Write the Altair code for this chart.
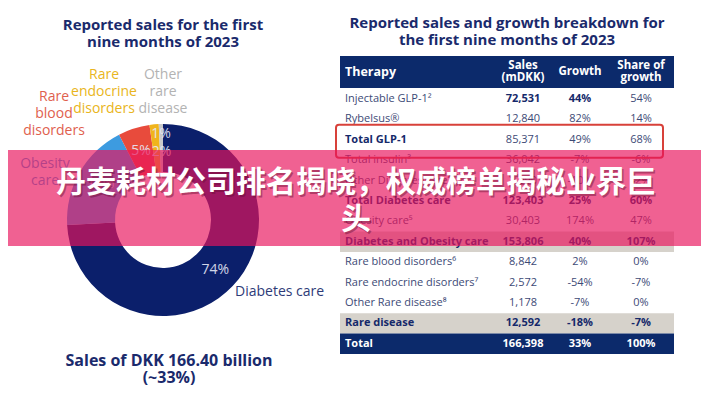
import math
import altair as alt
import pandas as pd

# ---------------- data ----------------
# Donut (left panel)
segments = ["Diabetes care", "Obesity care", "Rare blood disorders",
            "Rare endocrine disorders", "Other rare disease"]
segment_sales = [123403, 30403, 8842, 2572, 1178]
segment_pct = ["74%", "18%", "5%", "2%", "1%"]
segment_colors = ["#0b1f6b", "#3d9be0", "#e84b3c", "#f0b41c", "#c9c9c9"]
outer_label_lines = [["Diabetes care"], ["Obesity", "care"], ["Rare", "blood", "disorders"],
                     ["Rare", "endocrine", "disorders"], ["Other", "rare", "disease"]]
outer_label_colors = ["#2e3b78", "#4a9fe0", "#e0604e", "#e9b520", "#b3b3b3"]

left_title = ["Reported sales for the first", "nine months of 2023"]
left_footer = ["Sales of DKK 166.40 billion", "(~33%)"]
right_title = ["Reported sales and growth breakdown for", "the first nine months of 2023"]

# Table (right panel)
header = ["Therapy", "Sales\n(mDKK)", "Growth", "Share of\ngrowth"]
therapy = ["Injectable GLP-1²", "Rybelsus®", "Total GLP-1", "Total insulin³",
           "Other Diabetes care⁴", "Total Diabetes care", "Obesity care⁵",
           "Diabetes and Obesity care", "Rare blood disorders⁶",
           "Rare endocrine disorders⁷", "Other Rare disease⁸", "Rare disease", "Total"]
sales = ["72,531", "12,840", "85,371", "36,042", "1,990", "123,403", "30,403",
         "153,806", "8,842", "2,572", "1,178", "12,592", "166,398"]
growth = ["44%", "82%", "49%", "-7%", "-10%", "25%", "174%", "40%", "2%", "-54%",
          "-7%", "-18%", "33%"]
share = ["54%", "14%", "68%", "-6%", "-2%", "60%", "47%", "107%", "0%", "-7%",
         "0%", "-7%", "100%"]

banner_lines = ["丹麦耗材公司排名揭晓，权威榜单揭秘业界巨", "头"]

# ---------------- styles / layout ----------------
cell_bold = [(0, 1, 1, 0), (0, 0, 0, 0), (1, 0, 0, 0), (0, 0, 0, 0), (0, 0, 0, 0),
             (1, 1, 1, 1), (0, 0, 0, 0), (1, 1, 1, 1), (0, 0, 0, 0), (0, 0, 0, 0),
             (0, 0, 0, 0), (1, 1, 1, 1), (1, 1, 1, 1)]
row_band = {7: "#d6d2cb", 11: "#d6d2cb", 12: "#0c2a6b"}
NAVY = "#0c2a6b"
TITLE_C = "#1a2a6c"
REG_C = "#3d4a76"
BOLD_C = "#15296a"

CX, CY, R_OUT, R_IN = 163, 220, 96, 48
ROW0, PITCH = 99, 20.4
TX0, TX1 = 340, 674
COLS_X = [345, 523, 580, 641]

XS = alt.Scale(domain=[8, 701], range=[0, 693], nice=False, zero=False)
YS = alt.Scale(domain=[8, 388], range=[0, 380], nice=False, zero=False)


def xe(f="x"):
    return alt.X(f"{f}:Q", scale=XS, axis=None)


def ye(f="y"):
    return alt.Y(f"{f}:Q", scale=YS, axis=None)


def rects(df, **mk):
    return alt.Chart(df).mark_rect(**mk).encode(
        x=xe("x"), x2="x2", y=ye("y"), y2="y2",
        color=alt.Color("c:N", scale=None))


def texts(df, **mk):
    return alt.Chart(df).mark_text(**mk).encode(
        x=xe(), y=ye(), text="t:N", color=alt.Color("c:N", scale=None))


layers = []

# ---------- table ----------
band_rows = [dict(x=TX0, x2=TX1, y=56, y2=88, c=NAVY)]
for i, col in row_band.items():
    yc = ROW0 + PITCH * i
    band_rows.append(dict(x=TX0, x2=TX1, y=yc - PITCH / 2, y2=yc + PITCH / 2, c=col))
layers.append(rects(pd.DataFrame(band_rows)))

hdr = []
for j, h in enumerate(header):
    parts = h.split("\n")
    ys = [72] if len(parts) == 1 else [66, 78]
    for p, yy in zip(parts, ys):
        hdr.append(dict(x=COLS_X[j], y=yy, t=p, c="#ffffff", a="left" if j == 0 else "center"))
hdf = pd.DataFrame(hdr)
layers.append(texts(hdf[hdf.a == "left"], font="Open Sans", fontSize=12.5, fontWeight="bold",
                    align="left", baseline="middle"))
layers.append(texts(hdf[hdf.a == "center"], font="Open Sans", fontSize=11.5, fontWeight="bold",
                    align="center", baseline="middle"))

cells = []
for i in range(len(therapy)):
    yc = ROW0 + PITCH * i
    for j, val in enumerate([therapy[i], sales[i], growth[i], share[i]]):
        b = cell_bold[i][j]
        c = "#ffffff" if i == 12 else (BOLD_C if b else REG_C)
        cells.append(dict(x=COLS_X[j], y=yc, t=val, c=c, b=b, a="left" if j == 0 else "center"))
cdf = pd.DataFrame(cells)
for b in (0, 1):
    for a in ("left", "center"):
        sub = cdf[(cdf.b == b) & (cdf.a == a)]
        layers.append(texts(sub, font="Open Sans", fontSize=11,
                            fontWeight="bold" if b else "normal",
                            align=a, baseline="middle"))

# red highlight box around Total GLP-1
yb = ROW0 + PITCH * 2
layers.append(alt.Chart(pd.DataFrame([dict(x=336, x2=663, y=yb - 15, y2=yb + 18)]))
              .mark_rect(fill=None, stroke="#d8413a", strokeWidth=2, cornerRadius=3)
              .encode(x=xe("x"), x2="x2", y=ye("y"), y2="y2"))

# ---------- donut ----------
ddf = pd.DataFrame(dict(name=segments, sales=segment_sales, idx=range(len(segments)),
                        cx=CX, cy=CY))
layers.append(alt.Chart(ddf).mark_arc(innerRadius=R_IN, outerRadius=R_OUT).encode(
    x=xe("cx"), y=ye("cy"),
    theta=alt.Theta("sales:Q", stack=True),
    order=alt.Order("idx:Q"),
    color=alt.Color("name:N", scale=alt.Scale(domain=segments, range=segment_colors), legend=None)))

total = sum(segment_sales)
label_r = [72, 72, 72, 68, 86]
label_nudge = [0, 0, 0, 4, 0]
pct_rows = []
cum = 0
for i, v in enumerate(segment_sales):
    mid = (cum + v / 2) / total * 360 + label_nudge[i]
    cum += v
    a = math.radians(mid)
    pct_rows.append(dict(x=CX + label_r[i] * math.sin(a), y=CY - label_r[i] * math.cos(a),
                         t=segment_pct[i], c="#e6e9f7"))
layers.append(texts(pd.DataFrame(pct_rows), font="Open Sans", fontSize=14,
                    align="center", baseline="middle", opacity=0.9))

# outer category labels
outer_anchor = [(235, 292, "left"), (45, 164, "center"), (54, 97, "center"),
                (104, 75, "center"), (163, 75, "center")]
ol = []
for i, lines in enumerate(outer_label_lines):
    ax, ay, al = outer_anchor[i]
    for k, ln in enumerate(lines):
        ol.append(dict(x=ax, y=ay + 17 * k, t=ln, c=outer_label_colors[i], a=al))
odf = pd.DataFrame(ol)
for a in ("left", "center"):
    layers.append(texts(odf[odf.a == a], font="Open Sans", fontSize=14,
                        align=a, baseline="middle"))

# titles
tt = []
for k, ln in enumerate(left_title):
    tt.append(dict(x=163, y=25 + 17 * k, t=ln, c=TITLE_C))
for k, ln in enumerate(right_title):
    tt.append(dict(x=507, y=23 + 17 * k, t=ln, c=TITLE_C))
layers.append(texts(pd.DataFrame(tt), font="Open Sans", fontSize=15, fontWeight="bold",
                    align="center", baseline="middle"))
ft = [dict(x=169, y=361 + 17 * k, t=ln, c=TITLE_C) for k, ln in enumerate(left_footer)]
layers.append(texts(pd.DataFrame(ft), font="Open Sans", fontSize=16, fontWeight="bold",
                    align="center", baseline="middle"))

# ---------- banner ----------
layers.append(rects(pd.DataFrame([dict(x=0, x2=709, y=150, y2=246, c="#e8145c")]),
                    opacity=0.67))
bl = [dict(x=356, y=183 + 37 * k, t=ln, c="#ffffff") for k, ln in enumerate(banner_lines)]
bdf = pd.DataFrame(bl)
layers.append(texts(bdf.assign(c="#6a0f35"), font="Noto Sans CJK SC", fontSize=30,
                    fontWeight="bold", align="center", baseline="middle",
                    dx=1.5, dy=1.5, opacity=0.45))
layers.append(texts(bdf, font="Noto Sans CJK SC", fontSize=30, fontWeight="bold",
                    align="center", baseline="middle"))

chart = alt.layer(*layers).properties(
    width=693, height=380, padding=0, autosize="none"
).configure_view(stroke=None)

chart.save("out.html", embed_options={"renderer": "svg", "actions": False})
